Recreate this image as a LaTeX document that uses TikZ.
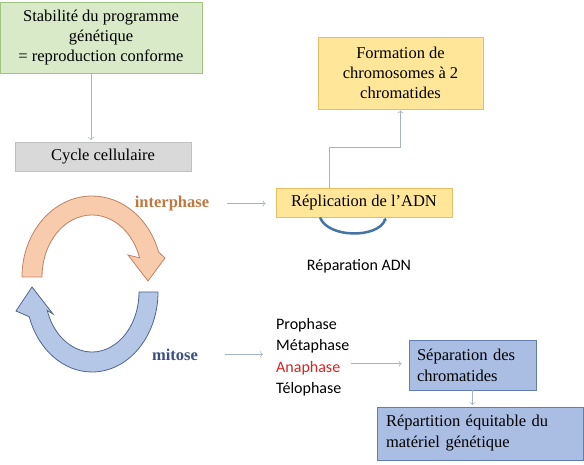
\documentclass[tikz,border=0pt]{standalone}
\usepackage{fontspec}
\setmainfont{Liberation Serif}
\newfontfamily\calibri{Carlito}
\usetikzlibrary{arrows.meta}

\definecolor{stabfill}{RGB}{216,234,200}
\definecolor{stabline}{RGB}{160,196,130}
\definecolor{cycfill}{RGB}{217,217,217}
\definecolor{cycline}{RGB}{192,192,192}
\definecolor{repfill}{RGB}{255,230,153}
\definecolor{repline}{RGB}{232,190,100}
\definecolor{sepfill}{RGB}{170,190,228}
\definecolor{sepline}{RGB}{100,125,175}
\definecolor{linkcol}{RGB}{165,180,195}
\definecolor{interfill}{RGB}{248,203,173}
\definecolor{interline}{RGB}{190,130,100}
\definecolor{intertext}{RGB}{190,120,65}
\definecolor{mitfill}{RGB}{180,199,231}
\definecolor{mitline}{RGB}{80,100,140}
\definecolor{mittext}{RGB}{60,80,125}
\definecolor{anared}{RGB}{215,35,35}
\definecolor{repaircol}{RGB}{70,115,165}

\begin{document}
\begin{tikzpicture}
  [x=1pt, y=-1pt,
   box/.style={draw, line width=0.8pt, inner sep=0pt, font=\fontsize{16.5}{20}\selectfont},
   leftbox/.style={box, align=left, font=\fontsize{16.5}{21}\selectfont},
   label/.style={anchor=base, inner sep=0pt, font=\bfseries\fontsize{16.5}{20}\selectfont},
   phase/.style={anchor=base west, inner sep=0pt, font=\calibri\fontsize{16}{20}\selectfont},
   link/.style={->, draw=linkcol, line width=0.6pt}]
  \useasboundingbox (0,0) rectangle (584,465);
  % boxes
  \node (stab) [box, fill=stabfill, draw=stabline, minimum width=202pt, minimum height=71pt, align=center] at (101,37.5) {Stabilité du programme\\génétique\\= reproduction conforme};
  \node (cyc) [box, fill=cycfill, draw=cycline, minimum width=176pt, minimum height=29pt] at (103,157) {Cycle cellulaire};
  \node (rep) [box, fill=repfill, draw=repline, minimum width=176pt, minimum height=29pt] at (364,202.5) {Réplication de l’ADN};
  \node (form) [box, fill=repfill, draw=repline, minimum width=165pt, minimum height=72pt, align=center] at (400.5,73) {Formation de\\chromosomes à 2\\chromatides};
  \node (sep) [leftbox, fill=sepfill, draw=sepline, inner xsep=8pt, text width=111pt, minimum height=50pt] at (472.5,365) {Séparation des\\chromatides};
  \node (rept) [leftbox, fill=sepfill, draw=sepline, inner xsep=9pt, text width=188pt, minimum height=53pt] at (480,433.5) {Répartition équitable du\\matériel génétique};
  % cycle arrows
  \begin{scope}[shift={(92,277)}, y=1pt]
    \draw [fill=interfill, draw=interline, line width=0.8pt] (180:70 and 81) arc [start angle=180, end angle=18, x radius=70, y radius=81] -- (73,19) -- (56,-4) -- (36,22) -- (18:50 and 62) arc [start angle=18, end angle=180, x radius=50, y radius=62] -- cycle;
  \end{scope}
  \begin{scope}[shift={(92,292)}, y=1pt]
    \draw [fill=mitfill, draw=mitline, line width=0.8pt] (0:66 and 80) arc [start angle=0, end angle=-162, x radius=66, y radius=80] -- (-76,-19) -- (-60,5) -- (-39,-22) -- (-162:47 and 60) arc [start angle=-162, end angle=0, x radius=47, y radius=60] -- cycle;
  \end{scope}
  % labels
  \node (inter) [label, text=intertext] at (172,207.5) {interphase};
  \node (mit) [label, text=mittext] at (175,360) {mitose};
  \node (repa) [anchor=base, inner sep=0pt, font=\calibri\fontsize{16}{20}\selectfont] at (359,270.5) {Réparation ADN};
  \node (pro) [phase] at (276,329) {Prophase};
  \node (meta) [phase] at (276,350.5) {Métaphase};
  \node (ana) [phase, text=anared] at (276,372) {Anaphase};
  \node (telo) [phase] at (276,393.5) {Télophase};
  % connectors
  \draw [link, shorten >=2pt] ([xshift=-10pt]stab.south) -- ([xshift=-10pt]stab.south |- cyc.north);
  \draw [link, shorten <=18pt, shorten >=10pt] (inter.east) -- (inter.east -| rep.west);
  \draw [link, shorten >=1pt] ([xshift=-35pt]rep.north) -- ++(0,-40) -| (form.south);
  \draw [repaircol, line width=2.5pt, -{Latex[length=3pt, width=4pt]}] ([xshift=-44pt]rep.south) .. controls +(8,21) and +(-8,21) .. ([xshift=22pt]rep.south);
  \draw [link, shorten <=27pt, shorten >=13pt] (mit.east) -- (mit.east -| meta.west);
  \draw [link, shorten <=11pt, shorten >=7pt] ([yshift=4pt]ana.east) -- ([yshift=4pt]ana.east -| sep.west);
  \draw [link, shorten >=1.5pt] (sep.south) -- (sep.south |- rept.north);
\end{tikzpicture}
\end{document}
